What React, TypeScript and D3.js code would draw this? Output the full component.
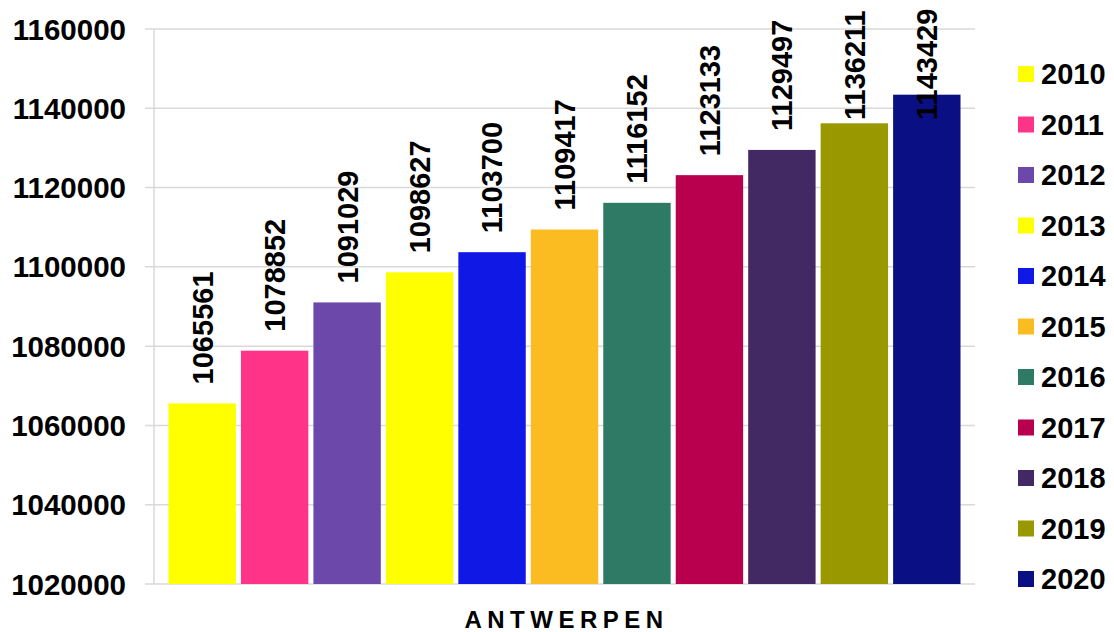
import React from "react";
import * as d3 from "d3";

// Population of Antwerpen per year
const years = ["2010", "2011", "2012", "2013", "2014", "2015", "2016", "2017", "2018", "2019", "2020"];
const population = [1065561, 1078852, 1091029, 1098627, 1103700, 1109417, 1116152, 1123133, 1129497, 1136211, 1143429];
const colors = ["#FFFF00", "#FF3388", "#6B48AA", "#FFFF00", "#1018E6", "#FBBC22", "#2E7A64", "#B8004E", "#422963", "#9A9800", "#0A0F84"];
const yTicks = [1020000, 1040000, 1060000, 1080000, 1100000, 1120000, 1140000, 1160000];
const categoryLabel = "ANTWERPEN";

const W = 1114;
const H = 632;
const plot = { left: 154, right: 975, top: 29, bottom: 584 };
const font = "'Liberation Sans', Arial, sans-serif";

export default function App() {
  const x = d3
    .scaleBand<string>()
    .domain(years)
    .range([plot.left, plot.right])
    .paddingInner(0.07)
    .paddingOuter(0.2);
  const y = d3.scaleLinear().domain([1020000, 1160000]).range([plot.bottom, plot.top]);
  const labelLen = 112;
  const gridColor = "#d9d9d9";

  return (
    <svg
      width={W}
      height={H}
      style={{ position: "absolute", left: 0, top: 0, background: "#fff" }}
      fontFamily={font}
      fontWeight="bold"
    >
      {/* horizontal gridlines */}
      {yTicks.map((t) => (
        <line key={t} x1={plot.left - 9} x2={plot.right} y1={y(t)} y2={y(t)} stroke={gridColor} strokeWidth={1.5} />
      ))}
      {/* value axis line */}
      <line x1={plot.left} x2={plot.left} y1={plot.top} y2={plot.bottom} stroke={gridColor} strokeWidth={1.5} />
      {/* tick labels */}
      {yTicks.map((t) => (
        <text key={"l" + t} x={126} y={y(t)} dy="0.36em" textAnchor="end" fontSize={29.5} fill="#000">
          {t}
        </text>
      ))}
      {/* bars */}
      {years.map((yr, i) => (
        <rect
          key={yr}
          x={x(yr)!}
          y={y(population[i])}
          width={x.bandwidth()}
          height={plot.bottom - y(population[i])}
          fill={colors[i]}
        />
      ))}
      {/* value labels */}
      {years.map((yr, i) => {
        const cx = x(yr)! + x.bandwidth() / 2;
        const base = Math.max(y(population[i]) - 19, 8 + labelLen);
        return (
          <text
            key={"v" + yr}
            transform={`translate(${cx},${base}) rotate(-90)`}
            dy="0.36em"
            fontSize={29}
            fill="#000"
          >
            {population[i]}
          </text>
        );
      })}
      {/* category label */}
      <text
        x={(plot.left + plot.right) / 2 + 2}
        y={628}
        textAnchor="middle"
        fontSize={24}
        letterSpacing={5.5}
        fill="#000"
      >
        {categoryLabel}
      </text>
      {/* legend */}
      {years.map((yr, i) => {
        const cy = 74 + i * 50.5;
        return (
          <g key={"g" + yr}>
            <rect x={1018} y={cy - 8} width={16} height={16} fill={colors[i]} />
            <text x={1041} y={cy} dy="0.36em" fontSize={29} fill="#000">
              {yr}
            </text>
          </g>
        );
      })}
    </svg>
  );
}
